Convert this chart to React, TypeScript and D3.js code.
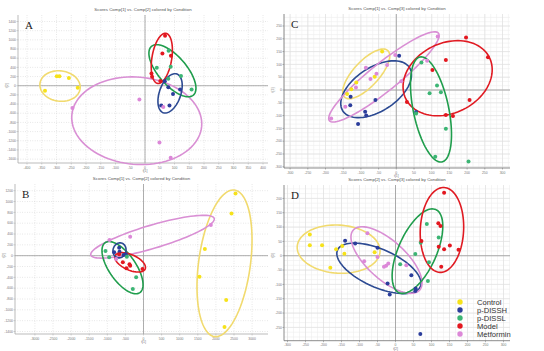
import React from 'react';
import * as d3 from 'd3';

const groups = ['Control', 'p-DISSH', 'p-DISSL', 'Model', 'Metformin'];
const pointColors = ['#f6e21a', '#2b3d9b', '#3cb574', '#e3171f', '#dc88d8'];
const ringColors = ['#f1da6e', '#2c4a92', '#1f9d4c', '#e01a22', '#d98fd4'];

// tick labels
const ticksA_x = [-400, -350, -300, -250, -200, -150, -100, -50, 0, 50, 100, 150, 200, 250, 300, 350, 400];
const ticksA_y = [-1600, -1400, -1200, -1000, -800, -600, -400, -200, 0, 200, 400, 600, 800, 1000, 1200, 1400];
const ticksB_x = [-3000, -2500, -2000, -1500, -1000, -500, 0, 500, 1000, 1500, 2000, 2500, 3000];
const ticksB_y = [-1400, -1200, -1000, -800, -600, -400, -200, 0, 200, 400, 600, 800, 1000, 1200];
const ticksC_x = [-300, -250, -200, -150, -100, -50, 0, 50, 100, 150, 200, 250, 300];
const ticksC_y = [-300, -250, -200, -150, -100, -50, 0, 50, 100, 150, 200, 250];
const ticksD_x = [-300, -250, -200, -150, -100, -50, 0, 50, 100, 150, 200, 250, 300];
const ticksD_y = [-250, -200, -150, -100, -50, 0, 50, 100, 150, 200];

// scores: [group, t_x, t_y]
const pointsA: [string, number, number][] = [
  ['Control', -339, -109], ['Control', -299, 204], ['Control', -290, 204], ['Control', -258, 167], ['Control', -228, -44],
  ['p-DISSH', 67, 95], ['p-DISSH', 79, -36], ['p-DISSH', 95, -182], ['p-DISSH', 119, -80], ['p-DISSH', 55, -429], ['p-DISSH', 83, -429],
  ['p-DISSL', 80, 763], ['p-DISSL', 40, 393], ['p-DISSL', 87, 414], ['p-DISSL', 79, 153], ['p-DISSL', 158, -80], ['p-DISSL', 122, 211],
  ['Model', 68, 1091], ['Model', 59, 705], ['Model', 88, 654], ['Model', 22, 269], ['Model', 24, 196], ['Model', 52, 102],
  ['Metformin', -19, -298], ['Metformin', -246, -487], ['Metformin', 62, -465], ['Metformin', 49, -1236], ['Metformin', 87, -1570],
];
const pointsB: [string, number, number][] = [
  ['Control', 2542, 1150], ['Control', 2431, 781], ['Control', 1695, 123], ['Control', 1547, -387], ['Control', 2284, -818], ['Control', 2238, -1316],
  ['p-DISSH', -672, 148], ['p-DISSH', -810, 62], ['p-DISSH', -663, 74], ['p-DISSH', -553, 12], ['p-DISSH', -488, 25],
  ['p-DISSL', -1050, 86], ['p-DISSL', -949, -31], ['p-DISSL', -460, -18], ['p-DISSL', -203, -400], ['p-DISSL', -295, -615],
  ['Model', -672, 25], ['Model', -571, -123], ['Model', -387, -160], ['Model', -470, -234], ['Model', -28, -246], ['Model', -368, -185],
  ['Metformin', 1860, 566], ['Metformin', -368, 350], ['Metformin', -939, 289], ['Metformin', -755, -61],
];
const pointsC: [string, number, number][] = [
  ['Control', -40, 150], ['Control', -61, 52], ['Control', -113, 29], ['Control', -127, 3], ['Control', -139, -16],
  ['p-DISSH', 8, 134], ['p-DISSH', -129, -26], ['p-DISSH', -130, -60], ['p-DISSH', -59, -39], ['p-DISSH', -88, -85], ['p-DISSH', -85, -100], ['p-DISSH', -108, -133], ['p-DISSH', 56, -86],
  ['p-DISSL', 71, 107], ['p-DISSL', 115, 18], ['p-DISSL', 94, -13], ['p-DISSL', 126, -9], ['p-DISSL', 56, -92], ['p-DISSL', 140, -151], ['p-DISSL', 110, -261], ['p-DISSL', 204, -279],
  ['Model', 197, 205], ['Model', 140, 117], ['Model', 102, 78], ['Model', 259, 128], ['Model', 207, -39], ['Model', 140, -98], ['Model', 160, -102], ['Model', 30, -47],
  ['Metformin', 117, 209], ['Metformin', 87, 114], ['Metformin', -3, 137], ['Metformin', -26, 98], ['Metformin', -56, 63], ['Metformin', -73, 43],
  ['Metformin', -114, 10], ['Metformin', -144, -65], ['Metformin', -184, -111], ['Metformin', 14, 34], ['Metformin', -86, 87],
];
const pointsD: [string, number, number][] = [
  ['Control', -238, 74], ['Control', -238, 37], ['Control', -204, 37], ['Control', -165, 23], ['Control', -148, 34], ['Control', -142, 7], ['Control', -181, -42], ['Control', -58, 12],
  ['p-DISSH', -140, 52], ['p-DISSH', -112, 43], ['p-DISSH', -50, 28], ['p-DISSH', -22, -97], ['p-DISSH', -16, -135], ['p-DISSH', 44, -68], ['p-DISSH', 55, -123], ['p-DISSH', 56, -114], ['p-DISSH', 69, -273],
  ['p-DISSL', 87, 111], ['p-DISSL', 120, 64], ['p-DISSL', 70, 45], ['p-DISSL', 55, 6], ['p-DISSL', 13, -30], ['p-DISSL', 93, -23], ['p-DISSL', 90, -88],
  ['Model', 135, 220], ['Model', 119, 113], ['Model', 125, 104], ['Model', 151, 36], ['Model', 120, 31], ['Model', 135, 23], ['Model', 175, 21], ['Model', 127, -38], ['Model', 72, 51],
  ['Metformin', -78, 78], ['Metformin', -87, -19], ['Metformin', -50, -4], ['Metformin', -32, -38], ['Metformin', -26, -35], ['Metformin', -20, -27], ['Metformin', 30, -33],
];

// confidence ellipses: [group, centre x, centre y, major semi-axis dx, dy, minor/major ratio]
const ellipsesA: [string, number, number, number, number, number][] = [
  ['Metformin', -28, -763, 220, -124, 0.67],
  ['Control', -288, -7, 68, -58, 0.75],
  ['p-DISSL', 93, 327, 71, -531, 0.44],
  ['Model', 57, 596, 14, 545, 0.39],
  ['p-DISSH', 85, -167, 23, 422, 0.52],
];
const ellipsesB: [string, number, number, number, number, number][] = [
  ['Control', 2238, -141, 276, 1353, 0.35],
  ['Metformin', 249, 350, 1704, 338, 0.18],
  ['p-DISSL', -580, -221, 479, -461, 0.44],
  ['Model', -368, -123, 414, -123, 0.47],
  ['p-DISSH', -663, 98, 55, 135, 0.85],
];
const ellipsesC: [string, number, number, number, number, number][] = [
  ['Control', -85, 63, 61, 91, 0.4],
  ['p-DISSH', -57, 3, 94, 85, 0.55],
  ['Metformin', -35, 51, 154, 171, 0.2],
  ['Model', 145, 46, 118, 81, 0.75],
  ['p-DISSL', 98, -76, 31, -205, 0.33],
];
const ellipsesD: [string, number, number, number, number, number][] = [
  ['Control', -158, 23, 115, -9, 0.58],
  ['p-DISSH', -46, -44, 115, -64, 0.42],
  ['Metformin', -25, -15, 92, -105, 0.43],
  ['p-DISSL', 61, 16, 51, 145, 0.42],
  ['Model', 129, 90, 6, 148, 0.51],
];

interface PanelProps {
  letter: string;
  title: string;
  xLabel: string;
  yLabel: string;
  frame: [number, number, number, number]; // left, top, right, bottom
  xDomain: [number, number];
  xRange: [number, number];
  yDomain: [number, number];
  yRange: [number, number];
  xTicks: number[];
  yTicks: number[];
  points: [string, number, number][];
  ellipses: [string, number, number, number, number, number][];
  solidGrid: boolean;
}

const Panel: React.FC<PanelProps> = (p) => {
  const [fl, ft, fr, fb] = p.frame;
  const x = d3.scaleLinear().domain(p.xDomain).range(p.xRange);
  const y = d3.scaleLinear().domain(p.yDomain).range(p.yRange);
  const colorOf = (g: string) => groups.indexOf(g);
  const axisColor = p.solidGrid ? '#6f6f6f' : '#a9a9a9';
  const font = 'Liberation Sans, Arial, sans-serif';

  const ellipsePath = (e: [string, number, number, number, number, number]) => {
    const [, cx, cy, mx, my, ratio] = e;
    const c = [x(cx), y(cy)];
    const M = [x(cx + mx) - c[0], y(cy + my) - c[1]];
    const N = [-M[1] * ratio, M[0] * ratio];
    const pts = d3.range(0, 96).map(i => {
      const t = (i / 96) * Math.PI * 2;
      return [c[0] + M[0] * Math.cos(t) + N[0] * Math.sin(t), c[1] + M[1] * Math.cos(t) + N[1] * Math.sin(t)] as [number, number];
    });
    return d3.line().curve(d3.curveLinearClosed)(pts) || '';
  };

  // sub-grid for the solid-grid panels
  const xStep = p.xTicks[1] - p.xTicks[0];
  const yStep = p.yTicks[1] - p.yTicks[0];
  const xSub = p.solidGrid ? d3.range(p.xTicks[0] - xStep, p.xTicks[p.xTicks.length - 1] + xStep, xStep / 3) : [];
  const ySub = p.solidGrid ? d3.range(p.yTicks[0] - yStep, p.yTicks[p.yTicks.length - 1] + yStep, yStep / 3) : [];

  return (
    <g>
      <text x={(fl + fr) / 2} y={ft - 4} textAnchor="middle" fontSize={4.4} fill="#555" fontFamily={font}>{p.title}</text>
      {xSub.filter(v => x(v) > fl && x(v) < fr).map((v, i) => (
        <line key={'xs' + i} x1={x(v)} x2={x(v)} y1={ft} y2={fb} stroke="#efefef" strokeWidth={0.6} />
      ))}
      {ySub.filter(v => y(v) > ft && y(v) < fb).map((v, i) => (
        <line key={'ys' + i} x1={fl} x2={fr} y1={y(v)} y2={y(v)} stroke="#efefef" strokeWidth={0.6} />
      ))}
      {p.xTicks.map(v => (
        <line key={'gx' + v} x1={x(v)} x2={x(v)} y1={ft} y2={fb}
          stroke={p.solidGrid ? '#dedede' : '#cfcfcf'} strokeWidth={0.6} strokeDasharray={p.solidGrid ? undefined : '0.8,1.6'} />
      ))}
      {p.yTicks.map(v => (
        <line key={'gy' + v} x1={fl} x2={fr} y1={y(v)} y2={y(v)}
          stroke={p.solidGrid ? '#dedede' : '#cfcfcf'} strokeWidth={0.6} strokeDasharray={p.solidGrid ? undefined : '0.8,1.6'} />
      ))}
      {/* zero lines */}
      <line x1={x(0)} x2={x(0)} y1={ft} y2={fb} stroke="#9a9a9a" strokeWidth={0.8} />
      <line x1={fl} x2={fr} y1={y(0)} y2={y(0)} stroke="#9a9a9a" strokeWidth={0.8} />
      {/* axes */}
      <line x1={fl} x2={fl} y1={ft} y2={fb} stroke={axisColor} strokeWidth={0.8} />
      <line x1={fl} x2={fr} y1={fb} y2={fb} stroke={axisColor} strokeWidth={0.8} />
      {p.xTicks.map(v => (
        <g key={'tx' + v}>
          <line x1={x(v)} x2={x(v)} y1={fb} y2={fb + 1.5} stroke={axisColor} strokeWidth={0.5} />
          <text x={x(v)} y={fb + 5.5} textAnchor="middle" fontSize={3.4} fill="#777" fontFamily={font}>{v}</text>
        </g>
      ))}
      {p.yTicks.map(v => (
        <g key={'ty' + v}>
          <line x1={fl - 1.5} x2={fl} y1={y(v)} y2={y(v)} stroke={axisColor} strokeWidth={0.5} />
          <text x={fl - 2} y={y(v) + 1.2} textAnchor="end" fontSize={3.4} fill="#777" fontFamily={font}>{v}</text>
        </g>
      ))}
      <text x={x(0)} y={fb + 9} textAnchor="middle" fontSize={3.4} fill="#777" fontFamily={font}>{p.xLabel}</text>
      <text transform={`translate(${fl - 10},${y(0)}) rotate(-90)`} textAnchor="middle" fontSize={3.6} fill="#777" fontFamily={font}>{p.yLabel}</text>
      <text x={fl + 7} y={ft + 14} fontSize={11} fill="#222" fontFamily="Liberation Serif, Times New Roman, serif">{p.letter}</text>
      {p.ellipses.map((e, i) => (
        <path key={'e' + i} d={ellipsePath(e)} fill="none" stroke={ringColors[colorOf(e[0])]} strokeWidth={1.6} />
      ))}
      {p.points.map((d, i) => (
        <circle key={'p' + i} cx={x(d[1])} cy={y(d[2])} r={2} fill={pointColors[colorOf(d[0])]} />
      ))}
    </g>
  );
};

const App: React.FC = () => {
  return (
    <svg width={544} height={351} style={{ position: 'absolute', left: 0, top: 0, background: '#fff' }}>
      <rect width={544} height={351} fill="#fff" />
      <Panel letter="A" title="Scores Comp[1] vs. Comp[2] colored by Condition" xLabel="t[1]" yLabel="t[2]"
        frame={[18, 15, 268, 163]} xDomain={[-400, 400]} xRange={[27, 263]} yDomain={[-1600, 1400]} yRange={[159.1, 21.5]}
        xTicks={ticksA_x} yTicks={ticksA_y} points={pointsA} ellipses={ellipsesA} solidGrid={false} />
      <Panel letter="C" title="Scores Comp[1] vs. Comp[3] colored by Condition" xLabel="t[1]" yLabel="t[3]"
        frame={[284, 14, 510, 168]} xDomain={[-300, 300]} xRange={[290.1, 502.5]} yDomain={[-300, 250]} yRange={[166.8, 26]}
        xTicks={ticksC_x} yTicks={ticksC_y} points={pointsC} ellipses={ellipsesC} solidGrid={true} />
      <Panel letter="B" title="Scores Comp[1] vs. Comp[2] colored by Condition" xLabel="t[1]" yLabel="t[2]"
        frame={[15, 184, 268, 334]} xDomain={[-3000, 3000]} xRange={[34.9, 252.1]} yDomain={[-1400, 1200]} yRange={[331.5, 190.7]}
        xTicks={ticksB_x} yTicks={ticksB_y} points={pointsB} ellipses={ellipsesB} solidGrid={false} />
      <Panel letter="D" title="Scores Comp[2] vs. Comp[3] colored by Condition" xLabel="t[2]" yLabel="t[3]"
        frame={[284, 185, 510, 340.7]} xDomain={[-300, 300]} xRange={[287.5, 503.5]} yDomain={[-250, 200]} yRange={[327.4, 198.4]}
        xTicks={ticksD_x} yTicks={ticksD_y} points={pointsD} ellipses={ellipsesD} solidGrid={true} />
      {/* legend */}
      <g fontFamily="Liberation Sans, Arial, sans-serif">
        {groups.map((g, i) => (
          <g key={g} transform={`translate(460,${302 + i * 8})`}>
            <circle r={2.7} fill={pointColors[i]} />
            <text x={17} y={2.6} fontSize={7.6} fill="#333">{g}</text>
          </g>
        ))}
      </g>
    </svg>
  );
};

export default App;
